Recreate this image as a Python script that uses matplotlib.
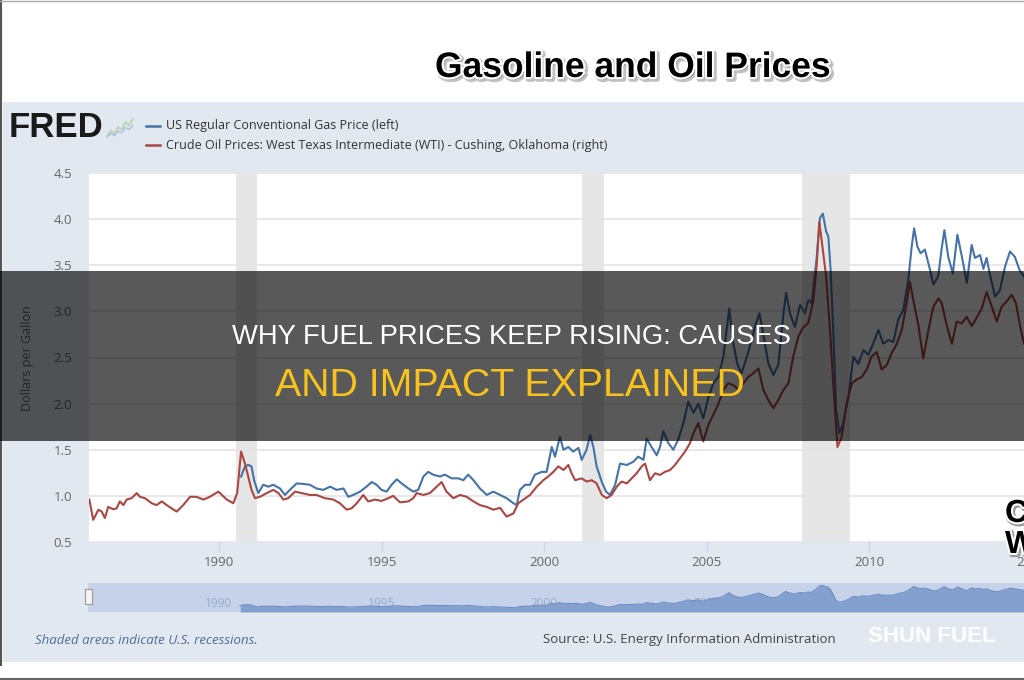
import matplotlib
matplotlib.use("Agg")
import matplotlib.pyplot as plt
import matplotlib.patheffects as pe
from matplotlib.patches import Rectangle
from matplotlib.lines import Line2D

# values; the oil (right) axis is cropped out of the
# picture, so the WTI series is given in the left-axis units it is drawn at
gas_years = [1990.67, 1990.79, 1990.89, 1990.99, 1991.07, 1991.20, 1991.35, 1991.51, 1991.66, 1991.87,
             1992.02, 1992.17, 1992.38, 1992.58, 1992.79, 1992.99, 1993.20, 1993.41, 1993.61, 1993.82,
             1993.97, 1994.12, 1994.33, 1994.53, 1994.69, 1994.84, 1994.99, 1995.15, 1995.30, 1995.46,
             1995.61, 1995.82, 1995.97, 1996.12, 1996.28, 1996.43, 1996.58, 1996.79, 1996.94, 1997.15,
             1997.35, 1997.51, 1997.66, 1997.82, 1998.02, 1998.23, 1998.43, 1998.64, 1998.84, 1999.05,
             1999.15, 1999.25, 1999.41, 1999.56, 1999.71, 1999.92, 2000.07, 2000.23, 2000.33, 2000.48,
             2000.59, 2000.74, 2000.89, 2001.05, 2001.15, 2001.30, 2001.41, 2001.51, 2001.61, 2001.77,
             2001.90, 2002.02, 2002.18, 2002.33, 2002.54, 2002.74, 2002.89, 2003.05, 2003.15, 2003.30,
             2003.46, 2003.56, 2003.66, 2003.82, 2003.97, 2004.12, 2004.28, 2004.43, 2004.59, 2004.74,
             2004.89, 2005.05, 2005.20, 2005.36, 2005.51, 2005.61, 2005.69, 2005.80, 2005.94, 2006.07,
             2006.28, 2006.48, 2006.62, 2006.74, 2006.89, 2007.05, 2007.20, 2007.36, 2007.44, 2007.56,
             2007.71, 2007.87, 2008.02, 2008.12, 2008.23, 2008.38, 2008.48, 2008.57, 2008.67, 2008.74,
             2008.81, 2008.89, 2008.98, 2009.08, 2009.20, 2009.36, 2009.51, 2009.66, 2009.82, 2009.97,
             2010.12, 2010.28, 2010.43, 2010.59, 2010.74, 2010.89, 2011.05, 2011.20, 2011.30, 2011.38,
             2011.48, 2011.58, 2011.71, 2011.87, 2011.97, 2012.12, 2012.23, 2012.31, 2012.43, 2012.57,
             2012.71, 2012.84, 2013.00, 2013.15, 2013.25, 2013.41, 2013.51, 2013.61, 2013.71, 2013.87,
             2014.02, 2014.18, 2014.33, 2014.48, 2014.62, 2014.76]
gas_prices = [1.21, 1.32, 1.335, 1.32, 1.17, 1.03, 1.12, 1.10, 1.12, 1.08,
              1.01, 1.065, 1.135, 1.13, 1.12, 1.08, 1.065, 1.10, 1.065, 1.08,
              0.99, 1.01, 1.046, 1.10, 1.15, 1.12, 1.065, 1.046, 1.12, 1.18,
              1.135, 1.08, 1.046, 1.065, 1.21, 1.26, 1.23, 1.21, 1.23, 1.19,
              1.19, 1.17, 1.23, 1.17, 1.08, 1.01, 1.046, 1.01, 0.975, 0.92,
              0.90, 1.065, 1.12, 1.12, 1.23, 1.26, 1.26, 1.53, 1.425, 1.64,
              1.50, 1.53, 1.48, 1.52, 1.39, 1.50, 1.66, 1.53, 1.32, 1.15,
              1.046, 1.01, 1.12, 1.35, 1.335, 1.37, 1.425, 1.39, 1.62, 1.53,
              1.44, 1.53, 1.70, 1.57, 1.50, 1.61, 1.79, 2.02, 1.90, 2.00,
              1.84, 2.07, 2.22, 2.29, 2.51, 2.80, 3.03, 2.68, 2.43, 2.33,
              2.56, 2.83, 2.98, 2.75, 2.44, 2.31, 2.42, 2.98, 3.20, 2.98,
              2.83, 3.07, 2.98, 3.12, 3.09, 3.58, 4.01, 4.06, 3.87, 3.81,
              3.45, 2.80, 1.93, 1.68, 1.79, 2.08, 2.51, 2.43, 2.58, 2.53,
              2.65, 2.80, 2.65, 2.69, 2.67, 2.91, 3.02, 3.34, 3.69, 3.90,
              3.70, 3.63, 3.67, 3.45, 3.29, 3.38, 3.69, 3.88, 3.59, 3.41,
              3.83, 3.61, 3.31, 3.72, 3.58, 3.61, 3.46, 3.58, 3.40, 3.16,
              3.23, 3.49, 3.65, 3.59, 3.45, 3.38]

oil_years = [1986.00, 1986.12, 1986.28, 1986.38, 1986.48, 1986.58, 1986.74, 1986.84, 1986.94, 1987.05,
             1987.15, 1987.30, 1987.46, 1987.56, 1987.71, 1987.92, 1988.07, 1988.23, 1988.38, 1988.53,
             1988.69, 1988.89, 1989.10, 1989.30, 1989.51, 1989.71, 1989.97, 1990.23, 1990.43, 1990.55,
             1990.67, 1990.79, 1990.89, 1990.99, 1991.10, 1991.25, 1991.46, 1991.66, 1991.82, 1991.97,
             1992.12, 1992.33, 1992.53, 1992.79, 1992.99, 1993.25, 1993.51, 1993.71, 1993.92, 1994.07,
             1994.23, 1994.43, 1994.58, 1994.79, 1994.99, 1995.20, 1995.35, 1995.56, 1995.82, 1995.97,
             1996.07, 1996.28, 1996.48, 1996.69, 1996.84, 1996.99, 1997.20, 1997.41, 1997.61, 1997.82,
             1998.02, 1998.23, 1998.43, 1998.64, 1998.84, 1999.05, 1999.20, 1999.36, 1999.56, 1999.77,
             1999.97, 2000.12, 2000.28, 2000.43, 2000.59, 2000.74, 2000.84, 2000.95, 2001.15, 2001.30,
             2001.46, 2001.61, 2001.77, 2001.92, 2002.07, 2002.23, 2002.38, 2002.54, 2002.69, 2002.84,
             2003.00, 2003.10, 2003.25, 2003.41, 2003.56, 2003.71, 2003.87, 2004.02, 2004.18, 2004.33,
             2004.48, 2004.59, 2004.74, 2004.89, 2005.05, 2005.20, 2005.36, 2005.51, 2005.66, 2005.82,
             2005.97, 2006.12, 2006.28, 2006.43, 2006.59, 2006.74, 2006.89, 2007.05, 2007.20, 2007.36,
             2007.51, 2007.66, 2007.82, 2007.97, 2008.12, 2008.28, 2008.38, 2008.46, 2008.57, 2008.67,
             2008.79, 2008.89, 2009.02, 2009.15, 2009.30, 2009.46, 2009.61, 2009.77, 2009.92, 2010.07,
             2010.23, 2010.38, 2010.54, 2010.69, 2010.84, 2011.00, 2011.15, 2011.25, 2011.36, 2011.51,
             2011.66, 2011.82, 2011.97, 2012.13, 2012.23, 2012.38, 2012.54, 2012.69, 2012.84, 2013.00,
             2013.15, 2013.30, 2013.46, 2013.61, 2013.77, 2013.92, 2014.07, 2014.23, 2014.38, 2014.51,
             2014.64, 2014.76]
oil_prices = [0.96, 0.74, 0.85, 0.83, 0.76, 0.88, 0.855, 0.865, 0.94, 0.90,
              0.96, 0.975, 1.03, 0.99, 0.975, 0.92, 0.90, 0.94, 0.90, 0.865,
              0.83, 0.90, 0.99, 0.99, 0.96, 0.99, 1.046, 0.96, 0.92, 1.03,
              1.48, 1.35, 1.21, 1.065, 0.975, 0.99, 1.03, 1.065, 1.03, 0.96,
              0.975, 1.046, 1.03, 1.01, 1.01, 0.975, 0.96, 0.92, 0.85, 0.865,
              0.92, 1.01, 0.94, 0.96, 0.945, 0.975, 1.00, 0.93, 0.94, 0.975,
              1.03, 1.01, 1.03, 1.10, 1.15, 1.046, 0.975, 1.01, 0.99, 0.94,
              0.90, 0.88, 0.85, 0.87, 0.775, 0.81, 0.92, 0.96, 1.01, 1.10,
              1.17, 1.21, 1.26, 1.32, 1.28, 1.335, 1.245, 1.17, 1.19, 1.155,
              1.17, 1.135, 1.01, 0.975, 1.01, 1.10, 1.155, 1.135, 1.19, 1.245,
              1.32, 1.35, 1.17, 1.245, 1.227, 1.26, 1.28, 1.335, 1.41, 1.48,
              1.57, 1.68, 1.79, 1.59, 1.77, 1.88, 2.00, 2.15, 2.22, 2.20,
              2.15, 2.22, 2.29, 2.33, 2.38, 2.15, 2.04, 1.95, 2.04, 2.15,
              2.22, 2.51, 2.73, 2.83, 2.87, 3.12, 3.49, 3.97, 3.67, 3.38,
              2.80, 2.22, 1.53, 1.64, 2.00, 2.22, 2.26, 2.29, 2.37, 2.51,
              2.56, 2.37, 2.42, 2.55, 2.64, 2.80, 3.09, 3.32, 3.11, 2.85,
              2.49, 2.80, 3.05, 3.14, 3.09, 2.85, 2.65, 2.89, 2.87, 2.94,
              2.84, 2.93, 3.03, 3.21, 3.05, 2.89, 3.05, 3.11, 3.18, 3.09,
              2.84, 2.65]

recessions = [(1990.5, 1991.17), (2001.17, 2001.83), (2007.92, 2009.42)]
y_ticks = [0.5, 1.0, 1.5, 2.0, 2.5, 3.0, 3.5, 4.0, 4.5]
x_ticks = [1990, 1995, 2000, 2005, 2010, 2015]
logo_spark = [0.2, 0.45, 0.3, 0.6, 0.5, 0.85, 0.7, 1.0]

legend_labels = ["US Regular Conventional Gas Price (left)",
                 "Crude Oil Prices: West Texas Intermediate (WTI) - Cushing, Oklahoma (right)"]

BLUE = "#4572a7"
RED = "#aa4643"
W, H = 1024, 680


def fx(px):
    return px / W


def fy(py):
    return 1 - py / H


fig = plt.figure(figsize=(10.24, 6.8), dpi=100)
fig.patch.set_facecolor("white")

# light FRED panel
fig.add_artist(Rectangle((fx(3), fy(662)), fx(1021), (662 - 102) / H, transform=fig.transFigure,
                         facecolor="#e2e8f0", edgecolor="none", zorder=-10))
fig.add_artist(Line2D([fx(1), fx(1)], [fy(0), fy(665)], color="#555555", lw=1.5))
fig.add_artist(Line2D([0, 1], [fy(678.5), fy(678.5)], color="#666666", lw=1.5))
fig.add_artist(Line2D([0, 1], [fy(0.5), fy(0.5)], color="#aaaaaa", lw=1))

x0 = 1990 + (89 - 219.3) / 32.5
x1 = 1990 + (1024 - 219.3) / 32.5

ax = fig.add_axes([fx(89), fy(542), fx(1024 - 89), (542 - 173) / H])
ax.set_facecolor("white")
for s in ax.spines.values():
    s.set_visible(False)
ax.set_xlim(x0, x1)
ax.set_ylim(0.5, 4.5)
for a, b in recessions:
    ax.axvspan(a, b, color="#e6e6e6", lw=0, zorder=0.5)
ax.set_yticks(y_ticks)
ax.set_yticklabels(["%.1f" % v for v in y_ticks], family="Open Sans")
ax.yaxis.grid(True, color="#e4e4e4", lw=1.2, zorder=0.6)
ax.set_axisbelow(True)
ax.set_xticks([t for t in x_ticks if t <= x1])
ax.set_xticklabels([str(t) for t in x_ticks if t <= x1], family="Open Sans")
ax.tick_params(axis="y", length=0, pad=12, labelsize=9.5, labelcolor="#666666")
ax.tick_params(axis="x", length=7, width=1, color="#ccd6eb", pad=3, labelsize=9.5, labelcolor="#666666")
for t in x_ticks:
    if t > x1:
        ax.text(t, -0.056, str(t), transform=ax.get_xaxis_transform(), ha="center", va="center",
                fontsize=9.5, color="#666666", family="Open Sans", clip_on=False)

ax.plot(gas_years, gas_prices, color=BLUE, lw=1.5, zorder=3)
ax.plot(oil_years, oil_prices, color=RED, lw=1.5, zorder=4)

fig.text(fx(28), fy(358), "Dollars per Gallon", rotation=90, ha="center", va="center",
         fontsize=9, color="#666666", family="Open Sans")

# navigator strip
nav = fig.add_axes([fx(88), fy(612), fx(1024 - 88), 29 / H])
nav.set_facecolor("#c6d2e9")
for s in nav.spines.values():
    s.set_visible(False)
nav.set_xticks([])
nav.set_yticks([])
nav.set_xlim(x0, x1)
nav.set_ylim(0.3, 4.4)
nav.fill_between(gas_years, gas_prices, 0.3, color="#84a0ce", lw=0, zorder=2)
nav.plot(gas_years, gas_prices, color="#6d8cc1", lw=0.8, zorder=3)
for t in x_ticks:
    nav.text(t, 0.31, str(t), transform=nav.get_xaxis_transform(), ha="center", va="center",
             fontsize=8.5, color="#98a9ca", family="Open Sans", zorder=1)
fig.add_artist(Rectangle((fx(85), fy(604)), fx(7), 15 / H, transform=fig.transFigure,
                         facecolor="#f4f4f4", edgecolor="#999999", lw=0.8, zorder=3))

# header: logo and legend
fig.text(fx(9), fy(137), "FRED", fontsize=25, fontweight="heavy", family="Liberation Sans",
         color="#1a1a1a", va="baseline")
logo = fig.add_axes([fx(106), fy(138), fx(28), 20 / H])
logo.axis("off")
logo.plot(range(len(logo_spark)), logo_spark, color="#b9d3b2", lw=1.2)
logo.plot(range(len(logo_spark)), [v * 0.7 for v in logo_spark], color="#a9c0dc", lw=1.0)
for i, (lab, col) in enumerate(zip(legend_labels, [BLUE, RED])):
    yy = 126 + i * 19
    fig.add_artist(Line2D([fx(146), fx(160)], [fy(yy), fy(yy)], color=col, lw=1.8))
    fig.text(fx(166), fy(yy), lab, va="center", ha="left", fontsize=9, color="#333333",
             family="Open Sans")

fig.text(fx(633), fy(77), "Gasoline and Oil Prices", ha="center", va="baseline", fontsize=25.5,
         fontweight="bold", family="Liberation Sans", color="black",
         path_effects=[pe.Stroke(offset=(1.5, -1.5), linewidth=4, foreground="#999999", alpha=0.6),
                       pe.Stroke(linewidth=3, foreground="white"), pe.Normal()])

# cropped bold overlay letters at the right edge
for txt, base in [("C", 522), ("W", 553)]:
    fig.text(fx(1005), fy(base), txt, ha="left", va="baseline", fontsize=23, fontweight="bold",
             family="Liberation Sans", color="black",
             path_effects=[pe.Stroke(offset=(1, -1), linewidth=4, foreground="#999999"),
                           pe.Stroke(linewidth=3, foreground="white"), pe.Normal()])

# footer
fig.text(fx(35), fy(640), "Shaded areas indicate U.S. recessions.", style="italic", fontsize=9.5,
         color="#4f6d9a", va="center", family="Open Sans")
fig.text(fx(543), fy(640), "Source: U.S. Energy Information Administration", fontsize=9.5,
         color="#444444", va="center", family="Open Sans")
fig.text(fx(868), fy(637), "SHUN FUEL", fontsize=16, fontweight="bold", color="white", va="center",
         family="Liberation Sans", alpha=0.95)

# dark banner with headline
fig.add_artist(Rectangle((0, fy(441)), 1, (441 - 271) / H, transform=fig.transFigure,
                         facecolor="black", edgecolor="none", alpha=0.65, zorder=10))
fig.text(fx(511), fy(343.7), "WHY FUEL PRICES KEEP RISING: CAUSES", ha="center", va="baseline",
         fontsize=19.7, color="white", family="Liberation Sans", zorder=11)
fig.text(fx(510), fy(396), "AND IMPACT EXPLAINED", ha="center", va="baseline",
         fontsize=28.3, color="#f7c21b", family="Liberation Sans", zorder=11)

fig.savefig("out.png", dpi=100)
